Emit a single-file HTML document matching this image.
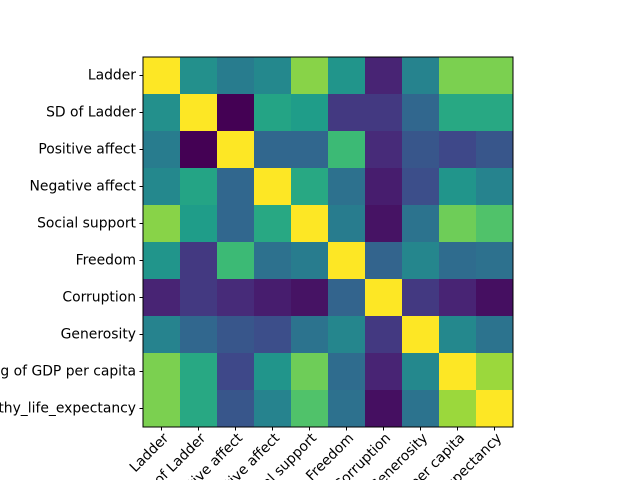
<!DOCTYPE html>
<html><head><meta charset="utf-8"><style>
html,body{margin:0;background:#fff;width:640px;height:480px;overflow:hidden}
svg{display:block;font-family:"DejaVu Sans","Liberation Sans",sans-serif}
</style></head><body>
<svg id="chart" width="640" height="480"></svg>
<script>
const labels=["Ladder","SD of Ladder","Positive affect","Negative affect","Social support","Freedom","Corruption","Generosity","Log of GDP per capita","Healthy_life_expectancy"];
const row0=[1,0.5,0.42,0.47,0.82,0.52,0.1,0.45,0.8,0.8];
const row1=[0.5,1,0,0.58,0.55,0.17,0.17,0.33,0.6,0.6];
const row2=[0.42,0,1,0.33,0.33,0.68,0.12,0.27,0.22,0.27];
const row3=[0.47,0.58,0.33,1,0.6,0.37,0.08,0.24,0.52,0.45];
const row4=[0.82,0.55,0.33,0.6,1,0.42,0.05,0.38,0.78,0.72];
const row5=[0.52,0.17,0.68,0.37,0.42,1,0.32,0.46,0.35,0.37];
const row6=[0.1,0.17,0.12,0.08,0.05,0.32,1,0.17,0.1,0.04];
const row7=[0.45,0.33,0.27,0.24,0.38,0.46,0.17,1,0.47,0.38];
const row8=[0.8,0.6,0.22,0.52,0.78,0.35,0.1,0.47,1,0.85];
const row9=[0.8,0.6,0.27,0.45,0.72,0.37,0.04,0.38,0.85,1];
const matrix=[row0,row1,row2,row3,row4,row5,row6,row7,row8,row9];

const NS="http://www.w3.org/2000/svg";
const svg=document.getElementById('chart');
const X0=143,Y0=57,W=370,H=370,n=labels.length,cw=W/n,ch=H/n;
const vmin=0,vmax=1;
const stops=[[68,1,84],[72,40,120],[62,73,137],[49,104,142],[38,130,142],[31,158,137],[53,183,121],[109,205,89],[180,222,44],[253,231,37]];
function viridis(t){t=Math.max(0,Math.min(1,t));const p=t*(stops.length-1),i=Math.min(stops.length-2,Math.floor(p)),f=p-i;
const c=stops[i].map((v,k)=>Math.round(v+(stops[i+1][k]-v)*f));return `rgb(${c[0]},${c[1]},${c[2]})`;}
const xs=j=>X0+j*cw, ys=i=>Y0+i*ch;
function mk(tag,attrs){const e=document.createElementNS(NS,tag);for(const k in attrs)e.setAttribute(k,attrs[k]);svg.appendChild(e);return e;}
matrix.forEach((row,i)=>row.forEach((v,j)=>{
  const r=mk('rect',{x:xs(j),y:ys(i),width:cw+0.5,height:ch+0.5,fill:viridis((v-vmin)/(vmax-vmin))});
  
  
}));
const fr=mk('rect',{x:X0,y:Y0,width:W,height:H,fill:'none',stroke:'#000','stroke-width':1});


labels.forEach((l,i)=>{
  const cy=ys(i)+ch/2;
  mk('line',{x1:X0-3.5,x2:X0,y1:cy,y2:cy,stroke:'#000'});
  const t=mk('text',{x:X0-7,y:cy,'text-anchor':'end','dominant-baseline':'central','font-size':13.9});
  t.textContent=l;
  
  
  const cx=xs(i)+cw/2;
  mk('line',{x1:cx,x2:cx,y1:Y0+H,y2:Y0+H+3.5,stroke:'#000'});
  const tx=mk('text',{x:cx+1,y:432,'text-anchor':'end','dominant-baseline':'hanging','font-size':13.9,transform:`rotate(-45 ${cx+1} 432)`});
  tx.textContent=l;
  
  
});
</script>
</body></html>
